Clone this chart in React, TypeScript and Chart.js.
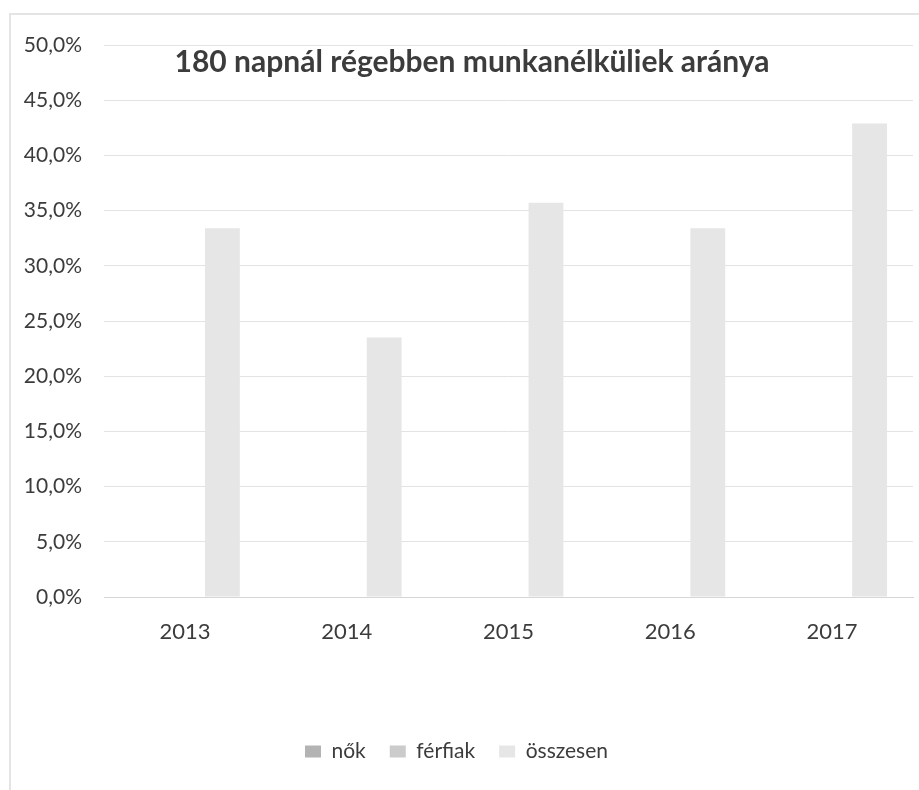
import React, { useEffect, useRef } from "react";
import { Chart, registerables } from "chart.js";

Chart.register(...registerables);

const categories = ["2013", "2014", "2015", "2016", "2017"];
const nokValues: (number | null)[] = [null, null, null, null, null];
const ferfiakValues: (number | null)[] = [null, null, null, null, null];
const osszesenValues = [0.334, 0.235, 0.357, 0.334, 0.429];
const seriesNames = ["nők", "férfiak", "összesen"];
const titleText = "180 napnál régebben munkanélküliek aránya";

const FONT = "Lato, 'Open Sans', sans-serif";
const TEXT = "#3c3c3c";

const overlayTitle = {
  id: "overlayTitle",
  afterDraw(chart: any) {
    const ctx = chart.ctx;
    ctx.save();
    ctx.font = `bold 30px ${FONT}`;
    ctx.fillStyle = "#3c3c3c";
    ctx.textAlign = "center";
    ctx.textBaseline = "middle";
    ctx.fillText(titleText, 472, 62);
    ctx.restore();
  },
};

const frame = {
  id: "frame",
  beforeDraw(chart: any) {
    const ctx = chart.ctx;
    ctx.save();
    ctx.fillStyle = "#ffffff";
    ctx.fillRect(0, 0, chart.width, chart.height);
    ctx.strokeStyle = "#e4e4e4";
    ctx.lineWidth = 2;
    ctx.beginPath();
    ctx.moveTo(10, chart.height);
    ctx.lineTo(10, 14);
    ctx.lineTo(chart.width, 14);
    ctx.stroke();
    ctx.restore();
  },
};

export default function App() {
  const ref = useRef<HTMLCanvasElement | null>(null);
  useEffect(() => {
    document.body.style.margin = "0";
    if (!ref.current) return;
    const chart = new Chart(ref.current, {
      type: "bar",
      data: {
        labels: categories,
        datasets: [
          { label: seriesNames[0], data: nokValues, backgroundColor: "#b3b3b3" },
          { label: seriesNames[1], data: ferfiakValues, backgroundColor: "#cbcbcb" },
          { label: seriesNames[2], data: osszesenValues, backgroundColor: "#e6e6e6" },
        ],
      },
      options: {
        animation: false,
        responsive: false,
        maintainAspectRatio: false,
        datasets: { bar: { barPercentage: 0.93, categoryPercentage: 0.695 } },
        layout: { padding: { top: 45, right: 6, left: 0, bottom: 18 } },
        scales: {
          x: {
            grid: { display: false, drawTicks: false },
            border: { display: true, color: "#d6d6d6" },
            ticks: { color: TEXT, font: { family: FONT, size: 22 }, padding: 22 },
            afterFit: (s: any) => { s.height = 120; },
          },
          y: {
            min: 0,
            max: 0.5,
            grid: { color: "#e3e3e3", drawTicks: false },
            border: { display: false },
            ticks: {
              stepSize: 0.05,
              color: TEXT,
              font: { family: FONT, size: 21 },
              padding: 22,
              callback: (v: any) => (Number(v) * 100).toFixed(1).replace(".", ",") + "%",
            },
            afterFit: (s: any) => { s.width = 104; },
          },
        },
        plugins: {
          legend: {
            position: "bottom",
            labels: {
              color: TEXT,
              font: { family: FONT, size: 21 },
              boxWidth: 16,
              boxHeight: 12,
              padding: 24,
            },
          },
          tooltip: { enabled: false },
          title: { display: false },
        },
      },
      plugins: [frame, overlayTitle],
    });
    return () => chart.destroy();
  }, []);
  return <canvas ref={ref} width={919} height={790} style={{ display: "block" }} />;
}
